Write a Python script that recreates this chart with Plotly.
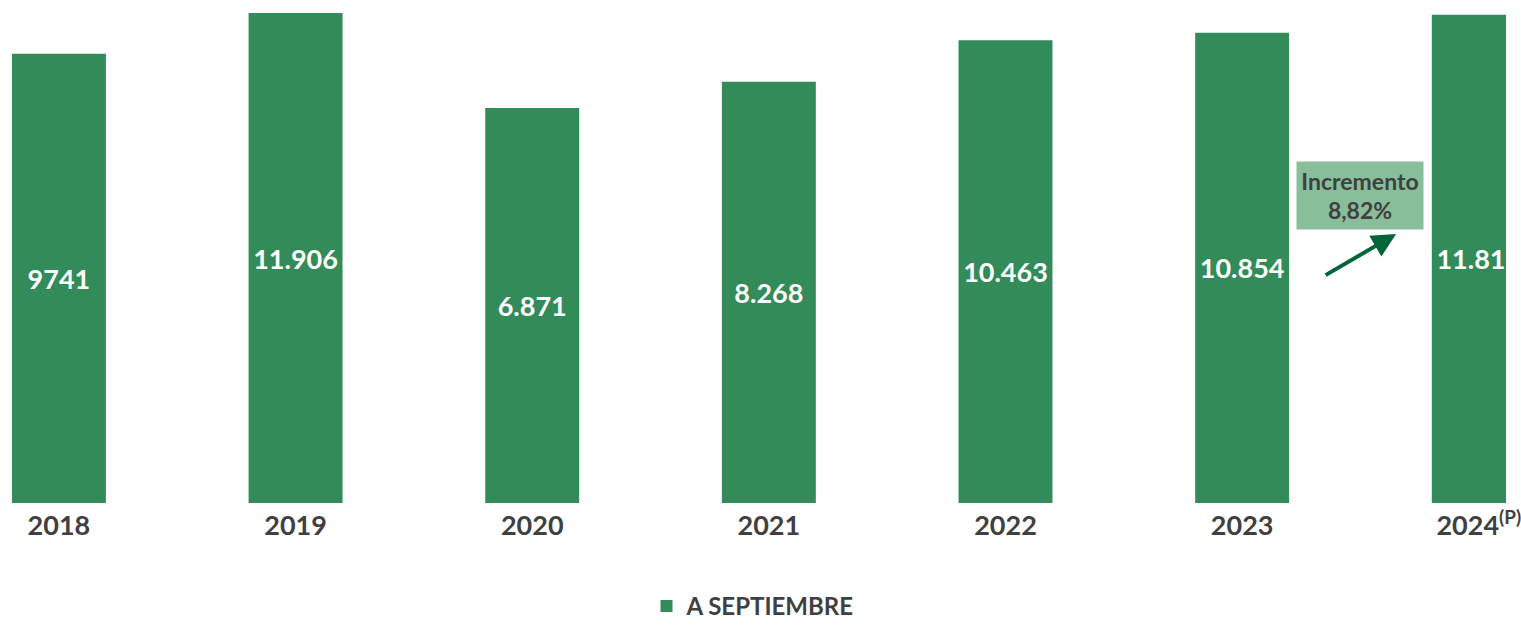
import plotly.graph_objects as go

years = ["2018", "2019", "2020", "2021", "2022", "2023", "2024<sup>(P)</sup>"]
values = [9741, 11906, 6871, 8268, 10463, 10854, 11811]
labels = ["9741", "11.906", "6.871", "8.268", "10.463", "10.854", "11.811"]
series_name = "A SEPTIEMBRE"
note_text = "<b>Incremento</b><br><b>8,82%</b>"

AXIS_FLOOR = -14064
AXIS_TOP = 12595
GREEN = "#348B5A"
DARK = "#404040"
FONT = "Lato"
FIG_W, FIG_H = 1521, 630
PLOT_H = 503

fig = go.Figure()
fig.add_trace(go.Bar(
    x=list(range(len(years))), y=[v - AXIS_FLOOR for v in values], base=AXIS_FLOOR,
    name=series_name, marker=dict(color=GREEN, line=dict(width=0)),
    text=labels, textposition="inside", insidetextanchor="middle",
    textfont=dict(family=FONT, size=27, color="white", weight="bold"),
    textangle=0, showlegend=True, hoverinfo="skip",
))

fig.update_layout(
    width=FIG_W, height=FIG_H,
    margin=dict(l=0, r=0, t=0, b=FIG_H - PLOT_H),
    paper_bgcolor="white", plot_bgcolor="white",
    bargap=0.603,
    xaxis=dict(range=[-0.249, 6.115], tickmode="array",
               tickvals=list(range(len(years))), ticktext=[f"<b>{y}</b>" for y in years],
               tickfont=dict(family=FONT, size=27, color=DARK),
               ticklabelstandoff=4, ticklabeloverflow="allow",
               showgrid=False, zeroline=False, showline=False, ticks=""),
    yaxis=dict(range=[AXIS_FLOOR, AXIS_TOP], visible=False, showgrid=False, zeroline=False),
    legend=dict(orientation="h", x=0.5, xanchor="center", y=-(629 - PLOT_H) / PLOT_H,
                yanchor="bottom",
                font=dict(family=FONT, size=24, color=DARK, weight="bold"),
                itemsizing="constant"),
    font=dict(family=FONT),
)

fig.add_annotation(
    xref="paper", yref="paper", x=1374 / FIG_W, y=(PLOT_H - 195.5) / PLOT_H,
    xanchor="center", yanchor="middle",
    text=note_text, showarrow=False, bgcolor="#88BE9A",
    width=122, height=63, borderpad=2,
    font=dict(family=FONT, size=23, color=DARK),
)
fig.add_annotation(
    xref="paper", yref="paper", x=1410 / FIG_W, y=(PLOT_H - 234) / PLOT_H,
    text="", showarrow=True, ax=-72, ay=42, axref="pixel", ayref="pixel",
    arrowhead=2, arrowsize=1.2, arrowwidth=4, arrowcolor="#00663A", standoff=0,
)

post = "document.body.style.margin='0';"
fig.write_html("out.html", config={"displayModeBar": False}, post_script=post)
